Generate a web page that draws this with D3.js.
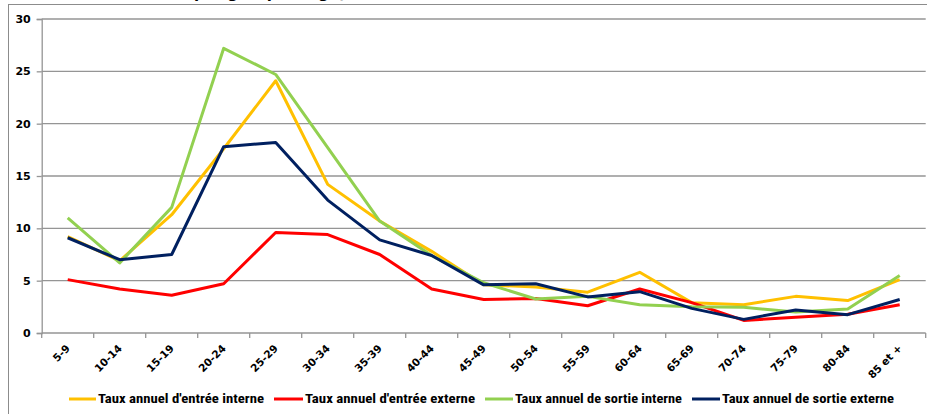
<!DOCTYPE html>
<html>
<head>
<meta charset="utf-8">
<script src="https://cdn.jsdelivr.net/npm/d3@7"></script>
<style>
  html, body { margin: 0; padding: 0; background: #fff; }
  svg { display: block; }
</style>
</head>
<body>
<svg id="chart" width="927" height="414"></svg>
<script>
// Age groups (x categories)
const categories = ["5-9", "10-14", "15-19", "20-24", "25-29", "30-34", "35-39", "40-44",
  "45-49", "50-54", "55-59", "60-64", "65-69", "70-74", "75-79", "80-84", "85 et +"];

// Annual rates, in %
const entreeInterne = [9.2, 6.9, 11.3, 17.6, 24.1, 14.2, 10.7, 7.8, 4.6, 4.4, 3.9, 5.8, 2.9, 2.7, 3.5, 3.1, 5.1];
const entreeExterne = [5.1, 4.2, 3.6, 4.7, 9.6, 9.4, 7.5, 4.2, 3.2, 3.3, 2.6, 4.2, 2.9, 1.2, 1.5, 1.8, 2.7];
const sortieInterne = [11.0, 6.7, 12.0, 27.2, 24.7, 17.7, 10.7, 7.4, 4.8, 3.25, 3.5, 2.7, 2.5, 2.45, 2.0, 2.3, 5.5];
const sortieExterne = [9.1, 7.0, 7.5, 17.8, 18.2, 12.7, 8.9, 7.4, 4.6, 4.7, 3.45, 3.95, 2.35, 1.3, 2.2, 1.75, 3.2];

const seriesNames = ["Taux annuel d'entrée interne", "Taux annuel d'entrée externe",
  "Taux annuel de sortie interne", "Taux annuel de sortie externe"];
const seriesColors = ["#FFC000", "#FF0000", "#92D050", "#002060"];
const yTicks = [0, 5, 10, 15, 20, 25, 30];

const series = [entreeInterne, entreeExterne, sortieInterne, sortieExterne].map((values, i) => ({
  name: seriesNames[i], color: seriesColors[i], values
}));

const svg = d3.select("#chart");
const plot = { left: 41.7, right: 925.7, top: 19, bottom: 333 };

// Outer frame
svg.append("rect")
  .attr("x", 8.5).attr("y", 4.5)
  .attr("width", 1000).attr("height", 500)
  .attr("fill", "none").attr("stroke", "#8c8c8c").attr("stroke-width", 1);

// Title (sits above the top edge, only its descenders show)
svg.append("text")
  .attr("x", 346).attr("y", -2)
  .attr("text-anchor", "end")
  .attr("font-family", "DejaVu Sans, Verdana, sans-serif")
  .attr("font-weight", "bold").attr("font-size", 15)
  .attr("fill", "#000")
  .text("Taux annuels de mobilité par groupe d'âge)");

const x = d3.scaleBand().domain(categories).range([plot.left, plot.right]).padding(0);
const y = d3.scaleLinear().domain([0, 30]).range([plot.bottom, plot.top]);

// Horizontal gridlines
svg.append("g")
  .selectAll("line")
  .data(yTicks.filter(d => d > 0))
  .join("line")
  .attr("x1", plot.left).attr("x2", plot.right)
  .attr("y1", d => y(d)).attr("y2", d => y(d))
  .attr("stroke", "#959595").attr("stroke-width", 1.3);

// Y axis
const yAxis = svg.append("g")
  .attr("transform", `translate(${plot.left},0)`)
  .call(d3.axisLeft(y).tickValues(yTicks).tickSize(5).tickPadding(6).tickFormat(d3.format("d")));
yAxis.select(".domain").attr("stroke", "#959595").attr("stroke-width", 1.3);
yAxis.selectAll(".tick line").attr("stroke", "#959595").attr("stroke-width", 1.3);
yAxis.selectAll("text")
  .attr("font-family", "DejaVu Sans, Verdana, sans-serif")
  .attr("font-weight", "bold").attr("font-size", 11).attr("fill", "#000");

// X axis: category boundaries as tick marks
const xAxis = svg.append("g")
  .attr("transform", `translate(0,${plot.bottom})`);
xAxis.append("line")
  .attr("x1", plot.left).attr("x2", plot.right)
  .attr("stroke", "#959595").attr("stroke-width", 1.3);
const boundaries = categories.map(c => x(c)).concat([x(categories[categories.length - 1]) + x.bandwidth()]);
xAxis.selectAll("line.tk")
  .data(boundaries)
  .join("line").attr("class", "tk")
  .attr("x1", d => d).attr("x2", d => d)
  .attr("y1", 0).attr("y2", 5)
  .attr("stroke", "#959595").attr("stroke-width", 1.3);
xAxis.selectAll("text")
  .data(categories)
  .join("text")
  .attr("transform", d => `translate(${x(d) + x.bandwidth() / 2 + 3},16) rotate(-45)`)
  .attr("text-anchor", "end")
  .attr("font-family", "DejaVu Sans, Verdana, sans-serif")
  .attr("font-weight", "bold").attr("font-size", 10.5).attr("fill", "#000")
  .text(d => d);

// Lines
const line = d3.line()
  .x((d, i) => x(categories[i]) + x.bandwidth() / 2)
  .y(d => y(d));

svg.append("g")
  .selectAll("path")
  .data(series)
  .join("path")
  .attr("d", d => line(d.values))
  .attr("fill", "none")
  .attr("stroke", d => d.color)
  .attr("stroke-width", 3)
  .attr("stroke-linejoin", "round");

// Legend
const legendItems = [
  { sx: 69, tx: 98, w: 166 },
  { sx: 274, tx: 305, w: 170 },
  { sx: 485, tx: 515, w: 167 },
  { sx: 692, tx: 722, w: 172 }
];
const legend = svg.append("g");
series.forEach((s, i) => {
  const it = legendItems[i];
  legend.append("line")
    .attr("x1", it.sx).attr("x2", it.tx - 2)
    .attr("y1", 399).attr("y2", 399)
    .attr("stroke", s.color).attr("stroke-width", 3);
  legend.append("text")
    .attr("x", it.tx).attr("y", 403)
    .attr("font-family", "Liberation Sans Narrow, Arial Narrow, Roboto Condensed, sans-serif")
    .attr("font-weight", "bold").attr("font-size", 12).attr("fill", "#000")
    .attr("textLength", it.w).attr("lengthAdjust", "spacingAndGlyphs")
    .text(s.name);
});
</script>
</body>
</html>
